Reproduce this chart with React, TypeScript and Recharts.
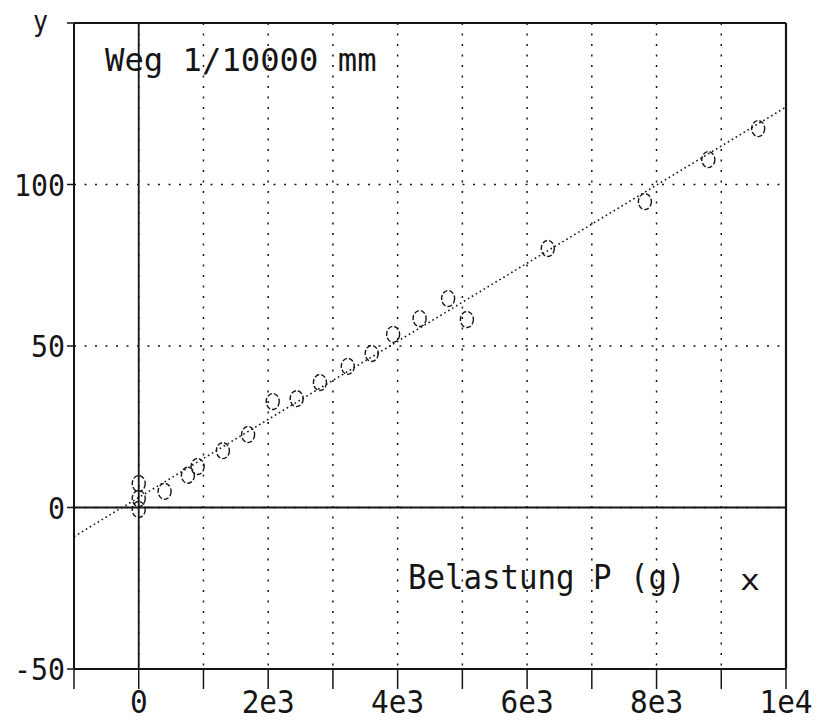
import { ScatterChart, Scatter, XAxis, YAxis, CartesianGrid, ReferenceLine } from 'recharts';

// Messpunkte: Belastung P (g) gegen Weg (1/10000 mm)
const loadX = [0, 0, 0, 400, 760, 910, 1300, 1690, 2070, 2440, 2800, 3230, 3600, 3930, 4340, 4780, 5070, 6320, 7820, 8800, 9570];
const wegY = [7.4, 2.8, -0.6, 5.0, 10.0, 12.7, 17.6, 22.6, 32.8, 33.7, 38.7, 43.7, 47.7, 53.6, 58.5, 64.7, 58.2, 80.2, 94.7, 107.7, 117.3];

// Ausgleichsgerade (Endpunkte am Rand)
const fitX = [-1000, 10000];
const fitY = [-9, 124];

const xTicks = [-1000, 0, 1000, 2000, 3000, 4000, 5000, 6000, 7000, 8000, 9000, 10000];
const xTickLabels = ['', '0', '', '2e3', '', '4e3', '', '6e3', '', '8e3', '', '1e4'];
const yTicks = [-50, 0, 50, 100, 150];
const yTickLabels = ['-50', '0', '50', '100', 'y'];

const points = loadX.map((x, i) => ({ x, y: wegY[i] }));
const fitLine = fitX.map((x, i) => ({ x, y: fitY[i] }));

const INK = '#151515';
const MONO = '"DejaVu Sans Mono", "Liberation Mono", monospace';

function MonoText({ x, y, text, size, adv, anchor = 'start' }: any) {
  if (!text) return null;
  return (
    <text
      x={x}
      y={y}
      fontFamily={MONO}
      fontSize={size}
      fill={INK}
      textAnchor={anchor}
      textLength={adv * text.length}
      lengthAdjust="spacingAndGlyphs"
    >
      {text}
    </text>
  );
}

function XTick({ x, y, payload }: any) {
  const label = xTickLabels[xTicks.indexOf(payload.value)];
  return <MonoText x={x} y={y + 22} text={label} size={32} adv={17.7} anchor="middle" />;
}

function YTick({ x, y, payload }: any) {
  const label = yTickLabels[yTicks.indexOf(payload.value)];
  if (label === 'y') {
    return <MonoText x={x - 17} y={y + 8} text={label} size={28} adv={15} anchor="end" />;
  }
  return <MonoText x={x} y={y + 11} text={label} size={30} adv={17} anchor="end" />;
}

function Ring({ cx, cy }: any) {
  return (
    <ellipse
      cx={cx}
      cy={cy}
      rx={6.5}
      ry={8}
      fill="none"
      stroke={INK}
      strokeWidth={1.4}
      strokeDasharray="5 2"
    />
  );
}

export default function App() {
  return (
    <div style={{ position: 'absolute', left: 0, top: 0, width: 816, height: 721, background: '#fff' }}>
      <ScatterChart width={816} height={721} margin={{ top: 23, right: 30, bottom: 0, left: 0 }}>
        <CartesianGrid stroke={INK} strokeWidth={1.5} strokeDasharray="2 8.5" />
        <XAxis
          type="number"
          dataKey="x"
          domain={[-1000, 10000]}
          ticks={xTicks}
          interval={0}
          allowDataOverflow
          height={52}
          tickSize={20}
          axisLine={{ stroke: INK, strokeWidth: 2 }}
          tickLine={{ stroke: INK, strokeWidth: 1.5 }}
          tick={<XTick />}
        />
        <YAxis
          type="number"
          dataKey="y"
          domain={[-50, 150]}
          ticks={yTicks}
          interval={0}
          allowDataOverflow
          width={74}
          tickSize={7}
          axisLine={{ stroke: INK, strokeWidth: 2 }}
          tickLine={{ stroke: INK, strokeWidth: 1.5 }}
          tick={<YTick />}
        />
        <ReferenceLine x={0} stroke={INK} strokeWidth={1.8} />
        <ReferenceLine y={0} stroke={INK} strokeWidth={1.8} />
        <ReferenceLine y={150} stroke={INK} strokeWidth={2} />
        <ReferenceLine x={10000} stroke={INK} strokeWidth={2.2} />
        <Scatter
          data={fitLine}
          line={{ stroke: INK, strokeWidth: 1.6, strokeDasharray: '1.6 3' }}
          shape={() => <g />}
          isAnimationActive={false}
        />
        <Scatter data={points} shape={<Ring />} isAnimationActive={false} />
      </ScatterChart>
      <svg
        width={816}
        height={721}
        style={{ position: 'absolute', left: 0, top: 0, pointerEvents: 'none' }}
      >
        <MonoText x={105} y={71} text="Weg 1/10000 mm" size={32} adv={19.4} />
        <MonoText x={408} y={589} text="Belastung P (g)" size={33} adv={18.5} />
        <MonoText x={740} y={590} text="x" size={28} adv={20} />
      </svg>
    </div>
  );
}
